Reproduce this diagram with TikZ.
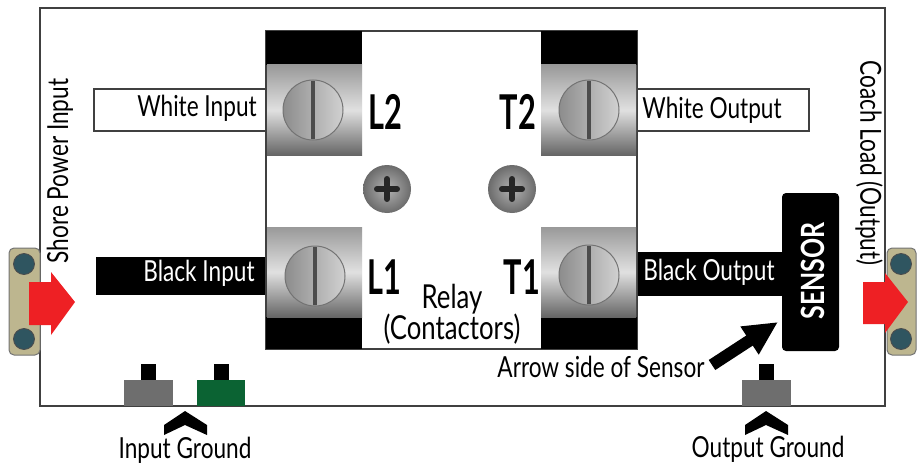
\documentclass[tikz,border=0pt]{standalone}
\usepackage{fontspec}
\usepackage{tikz}
\usetikzlibrary{arrows.meta}
\setmainfont{Lato}[FakeStretch=0.78]
\definecolor{bracket}{HTML}{BDB68F}
\definecolor{arrowred}{HTML}{EE2024}
\definecolor{groundgrey}{HTML}{6E6E6E}
\definecolor{groundgreen}{HTML}{0B6333}
\definecolor{boltblue}{HTML}{2F5560}
\tikzset{
  terminal/.style={top color=black!40,bottom color=black!60,middle color=black!12,draw=none},
  wire/.style={draw=black!75,line width=1.2pt},
  label/.style={font=\fontsize{29}{31}\selectfont,inner sep=0pt},
  wirelabel/.style={label,text=white},
  relaylabel/.style={label,font=\fontsize{33}{35}\selectfont},
  pinlabel/.style={font=\fontsize{48}{48}\bfseries\selectfont,inner sep=0pt,xscale=.82},
  headscrew/.style={draw=black!55,line width=1pt,left color=black!45,right color=black!18},
  crossscrew/.style={draw=none,inner color=black!30,outer color=black!58},
  mountbolt/.style={draw=black!70,line width=.8pt,fill=boltblue},
  plate/.style={draw=black!55,line width=1pt,fill=bracket,rounded corners=5pt},
  redarrow/.style={fill=arrowred,draw=none},
  chevron/.style={fill=black,draw=none}
}
\begin{document}
\begin{tikzpicture}[x=1pt,y=-1pt]
\useasboundingbox (0,0) rectangle (917,468);
\draw[black!75,line width=1.6pt] (40,8) rectangle (885,406);

\draw[plate] (9,248) rectangle (40,355);
\draw[plate] (887,248) rectangle (916,355);
\draw[mountbolt] (24,264) circle (10.5);
\draw[mountbolt] (24,339) circle (10.5);
\draw[mountbolt] (901,264) circle (10.5);
\draw[mountbolt] (901,339) circle (10.5);
\fill[redarrow] (29,282) -- (51,282) -- (51,272) -- (75,302) -- (51,335) -- (51,325) -- (29,325) -- cycle;
\fill[redarrow] (863,282) -- (885,282) -- (885,273) -- (908,302) -- (885,333) -- (885,324) -- (863,324) -- cycle;

\draw[wire,fill=white] (94,89) rectangle (266,131);
\draw[wire,fill=white] (637,89) rectangle (809,131);
\fill[black] (96,257) rectangle (266,295);
\fill[black] (637,252) rectangle (785,296);
\fill[black,rounded corners=4pt] (782,193) rectangle (839,351);

\draw[black!75,line width=1.6pt,fill=white] (266,31) rectangle (637,349);
\fill[black] (266,31) rectangle (362,65);
\fill[black] (541,31) rectangle (637,65);
\fill[black] (266,317) rectangle (362,349);
\fill[black] (541,317) rectangle (637,349);
\shade[terminal] (267,65) rectangle (362,155);
\shade[terminal] (541,65) rectangle (636,155);
\shade[terminal] (267,227) rectangle (362,317);
\shade[terminal] (541,227) rectangle (636,317);

\draw[headscrew] (313,110) circle (30);
\draw[headscrew] (589,110) circle (30);
\draw[headscrew] (315,276) circle (30);
\draw[headscrew] (589,275) circle (30);
\draw[black!70,line width=4pt] (313,81) -- (313,139);
\draw[black!70,line width=4pt] (589,81) -- (589,139);
\draw[black!70,line width=4pt] (315,247) -- (315,305);
\draw[black!70,line width=4pt] (589,246) -- (589,304);

\shade[crossscrew] (387,189) circle (24);
\shade[crossscrew] (512,189) circle (24);
\draw[black!85,line width=6pt,line cap=round] (377,189) -- (397,189);
\draw[black!85,line width=6pt,line cap=round] (387,179) -- (387,199);
\draw[black!85,line width=6pt,line cap=round] (502,189) -- (522,189);
\draw[black!85,line width=6pt,line cap=round] (512,179) -- (512,199);

\fill[groundgrey] (124,380) rectangle (173,406);
\fill[groundgreen] (197,380) rectangle (245,406);
\fill[groundgrey] (742,380) rectangle (791,406);
\fill[black] (141,364) rectangle (156,380);
\fill[black] (214,364) rectangle (229,380);
\fill[black] (759,364) rectangle (774,380);
\fill[chevron] (185,411) -- (207,425) -- (207,435) -- (185,425) -- (164,435) -- (164,425) -- cycle;
\fill[chevron] (766,411) -- (788,425) -- (788,435) -- (766,425) -- (745,435) -- (745,425) -- cycle;

\node[label] (whitein) at (197,108) {White Input};
\node[label] (whiteout) at (712,110) {White Output};
\node[wirelabel] (blackin) at (199,273) {Black Input};
\node[wirelabel] (blackout) at (709,272) {Black Output};
\node[wirelabel,rotate=90,font=\fontsize{32}{34}\bfseries\selectfont] (sensor) at (813,271) {SENSOR};
\node[pinlabel] (ltwo) at (385,112) {L2};
\node[pinlabel] (ttwo) at (518,112) {T2};
\node[pinlabel] (lone) at (384,277) {L1};
\node[pinlabel] (tone) at (522,277) {T1};
\node[relaylabel] (relay) at (452,299) {Relay};
\node[relaylabel] (contactors) at (452,329) {(Contactors)};
\node[label,rotate=90] (shore) at (60,171) {Shore Power Input};
\node[label,rotate=-90] (coach) at (869,163) {Coach Load (Output)};
\node[label] (arrowside) at (601,367) {Arrow side of Sensor};
\node[label] (inground) at (185,450) {Input Ground};
\node[label] (outground) at (768,449) {Output Ground};

\coordinate (sensorside) at (778,322);
\draw[black,line width=12pt,-{Triangle[length=34pt,width=31pt]}] (712,365) -- (sensorside);
\end{tikzpicture}
\end{document}
